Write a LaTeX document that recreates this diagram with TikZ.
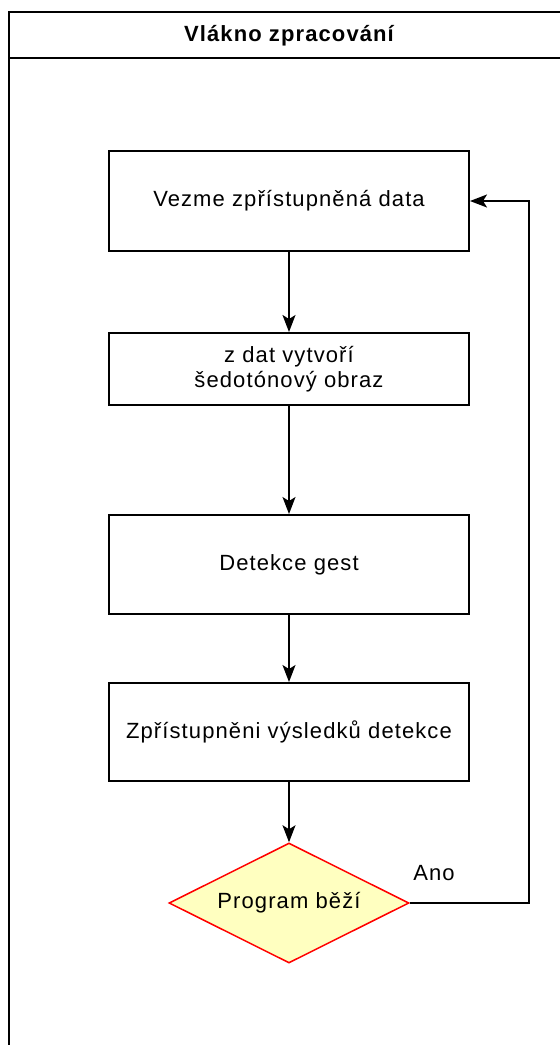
\documentclass[tikz,border=0pt]{standalone}
\usepackage{fontspec}
\setmainfont{Liberation Sans}[LetterSpace=5]
\usetikzlibrary{shapes.geometric,arrows.meta}
\begin{document}
\begin{tikzpicture}[x=1pt,y=-1pt,
  txt/.style={font=\fontsize{22}{25}\selectfont},
  stepbox/.style={draw, line width=2pt, minimum width=360pt, inner sep=0pt, align=center, txt},
  decision/.style={diamond, draw=red, fill={rgb,255:red,255;green,255;blue,192}, line width=1.5pt, minimum width=240pt, minimum height=120pt, inner sep=0pt, aspect=2, txt},
  conn/.style={draw, line width=1.6pt, -{Stealth[length=17pt,width=13pt,inset=4pt]}},
  pool/.style={line width=2.2pt}]
\useasboundingbox (0,0) rectangle (560,1045);
\draw[pool] (9,1045) -- (9,12) -- (560,12);
\draw[pool] (9,58) -- (560,58);
\node[font=\bfseries\fontsize{22}{25}\selectfont] (title) at (289,36) {Vlákno zpracování};
\node[stepbox, minimum height=100pt] (b1) at (289,201) {Vezme zpřístupněná data};
\node[stepbox, minimum height=72pt] (b2) at (289,369) {z dat vytvoří\\ šedotónový obraz};
\node[stepbox, minimum height=99pt] (b3) at (289,564.5) {Detekce gest};
\node[stepbox, minimum height=98pt] (b4) at (289,732) {Zpřístupněni výsledků detekce};
\node[decision] (d) at (289,903) {Program běží};
\coordinate (c1) at (529,903);
\coordinate (c2) at (529,201);
\draw[conn] (b1) -- (b2);
\draw[conn] (b2) -- (b3);
\draw[conn] (b3) -- (b4);
\draw[conn] (b4) -- (d);
\draw[conn] (d.east) -- (c1) -- (c2) -- (b1.east);
\node[txt] (ano) at (434,873) {Ano};
\end{tikzpicture}
\end{document}
